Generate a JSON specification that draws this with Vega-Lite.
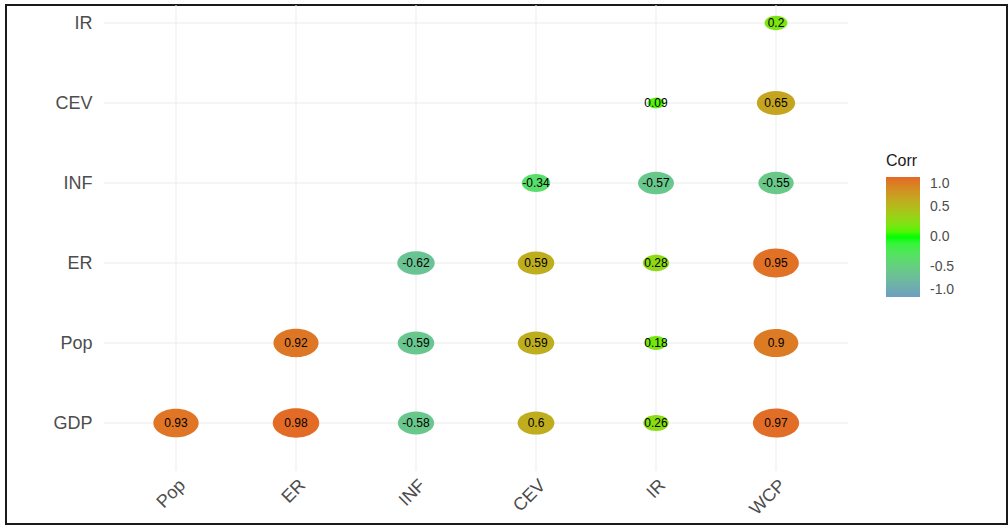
{
  "$schema": "https://vega.github.io/schema/vega-lite/v6.json",
  "width": 1001,
  "height": 519,
  "autosize": {"type": "none"},
  "padding": {"left": 6, "top": 5, "right": 1, "bottom": 5},
  "background": "white",
  "config": {"view": {"stroke": "#1a1a1a", "strokeWidth": 2}, "font": "Liberation Sans"},
  "datasets": {
    "cells": [
      {"x": "Pop", "y": "GDP", "corr": 0.93},
      {"x": "ER", "y": "GDP", "corr": 0.98},
      {"x": "INF", "y": "GDP", "corr": -0.58},
      {"x": "CEV", "y": "GDP", "corr": 0.6},
      {"x": "IR", "y": "GDP", "corr": 0.26},
      {"x": "WCP", "y": "GDP", "corr": 0.97},
      {"x": "ER", "y": "Pop", "corr": 0.92},
      {"x": "INF", "y": "Pop", "corr": -0.59},
      {"x": "CEV", "y": "Pop", "corr": 0.59},
      {"x": "IR", "y": "Pop", "corr": 0.18},
      {"x": "WCP", "y": "Pop", "corr": 0.9},
      {"x": "INF", "y": "ER", "corr": -0.62},
      {"x": "CEV", "y": "ER", "corr": 0.59},
      {"x": "IR", "y": "ER", "corr": 0.28},
      {"x": "WCP", "y": "ER", "corr": 0.95},
      {"x": "CEV", "y": "INF", "corr": -0.34},
      {"x": "IR", "y": "INF", "corr": -0.57},
      {"x": "WCP", "y": "INF", "corr": -0.55},
      {"x": "IR", "y": "CEV", "corr": 0.09},
      {"x": "WCP", "y": "CEV", "corr": 0.65},
      {"x": "WCP", "y": "IR", "corr": 0.2}
    ],
    "xvars": [{"v": "Pop"}, {"v": "ER"}, {"v": "INF"}, {"v": "CEV"}, {"v": "IR"}, {"v": "WCP"}],
    "yvars": [{"v": "GDP"}, {"v": "Pop"}, {"v": "ER"}, {"v": "INF"}, {"v": "CEV"}, {"v": "IR"}]
  },
  "layer": [
    {
      "data": {"name": "xvars"},
      "transform": [{"calculate": "indexof(['Pop','ER','INF','CEV','IR','WCP'], datum.v)", "as": "xi"}],
      "mark": {"type": "rule", "color": "#ebebeb", "strokeWidth": 1},
      "encoding": {
        "x": {"field": "xi", "type": "quantitative", "scale": {"domain": [-1.41667, 6.925], "nice": false, "zero": false}},
        "y": {"datum": -0.6, "type": "quantitative", "scale": {"domain": [-1.2625, 5.225], "nice": false, "zero": false}},
        "y2": {"datum": 5.225}
      }
    },
    {
      "data": {"name": "yvars"},
      "transform": [{"calculate": "indexof(['GDP','Pop','ER','INF','CEV','IR'], datum.v)", "as": "yi"}],
      "mark": {"type": "rule", "color": "#ebebeb", "strokeWidth": 1},
      "encoding": {
        "y": {"field": "yi", "type": "quantitative"},
        "x": {"datum": -0.6, "type": "quantitative"},
        "x2": {"datum": 5.6}
      }
    },
    {
      "data": {"name": "cells"},
      "transform": [
        {"calculate": "indexof(['Pop','ER','INF','CEV','IR','WCP'], datum.x)", "as": "xi"},
        {"calculate": "indexof(['GDP','Pop','ER','INF','CEV','IR'], datum.y)", "as": "yi"},
        {"calculate": "abs(datum.corr)", "as": "abscorr"}
      ],
      "mark": {"type": "point", "shape": "M-1,0A1,0.63,0,1,0,1,0A1,0.63,0,1,0,-1,0Z", "filled": true, "opacity": 1},
      "encoding": {
        "x": {
          "field": "xi", "type": "quantitative",
          "axis": {
            "values": [0, 1, 2, 3, 4, 5],
            "labelExpr": "['Pop','ER','INF','CEV','IR','WCP'][datum.value]",
            "grid": false, "ticks": false, "domain": false, "title": null,
            "offset": -50, "labelAngle": -45, "labelAlign": "right", "labelBaseline": "top",
            "labelPadding": 2, "labelFontSize": 18, "labelColor": "#4d4d4d",
            "labelOverlap": false, "labelFlush": false
          }
        },
        "y": {
          "field": "yi", "type": "quantitative",
          "axis": {
            "values": [0, 1, 2, 3, 4, 5],
            "labelExpr": "['GDP','Pop','ER','INF','CEV','IR'][datum.value]",
            "grid": false, "ticks": false, "domain": false, "title": null,
            "offset": -86, "labelAlign": "right", "labelBaseline": "middle",
            "labelPadding": 0, "labelFontSize": 18, "labelColor": "#4d4d4d",
            "labelOverlap": false, "labelFlush": false
          }
        },
        "color": {
          "field": "corr", "type": "quantitative",
          "scale": {"domain": [-1, 0, 1], "range": ["#6D9EC1", "#00FF00", "#E46726"], "interpolate": "lab"},
          "legend": {
            "title": "Corr", "orient": "none", "legendX": 880, "legendY": 148, "direction": "vertical",
            "gradientLength": 120, "gradientThickness": 34, "values": [-1, -0.5, 0, 0.5, 1],
            "labelExpr": "replace(format(datum.value, '.1f'), '\u2212', '-')",
            "labelFontSize": 14, "labelColor": "#4d4d4d", "labelOffset": 10, "labelOverlap": false,
            "labelBaseline": "middle",
            "titleFontSize": 16, "titleColor": "#1a1a1a", "titleFontWeight": "normal", "titlePadding": 8,
            "gradientStrokeWidth": 0
          }
        },
        "size": {"field": "abscorr", "type": "quantitative", "scale": {"type": "linear", "domain": [0, 1], "range": [100, 2200], "zero": false}, "legend": null}
      }
    },
    {
      "data": {"name": "cells"},
      "transform": [
        {"calculate": "indexof(['Pop','ER','INF','CEV','IR','WCP'], datum.x)", "as": "xi"},
        {"calculate": "indexof(['GDP','Pop','ER','INF','CEV','IR'], datum.y)", "as": "yi"}
      ],
      "mark": {"type": "text", "fontSize": 12, "color": "black"},
      "encoding": {
        "x": {"field": "xi", "type": "quantitative"},
        "y": {"field": "yi", "type": "quantitative"},
        "text": {"field": "corr", "type": "nominal"}
      }
    }
  ]
}
